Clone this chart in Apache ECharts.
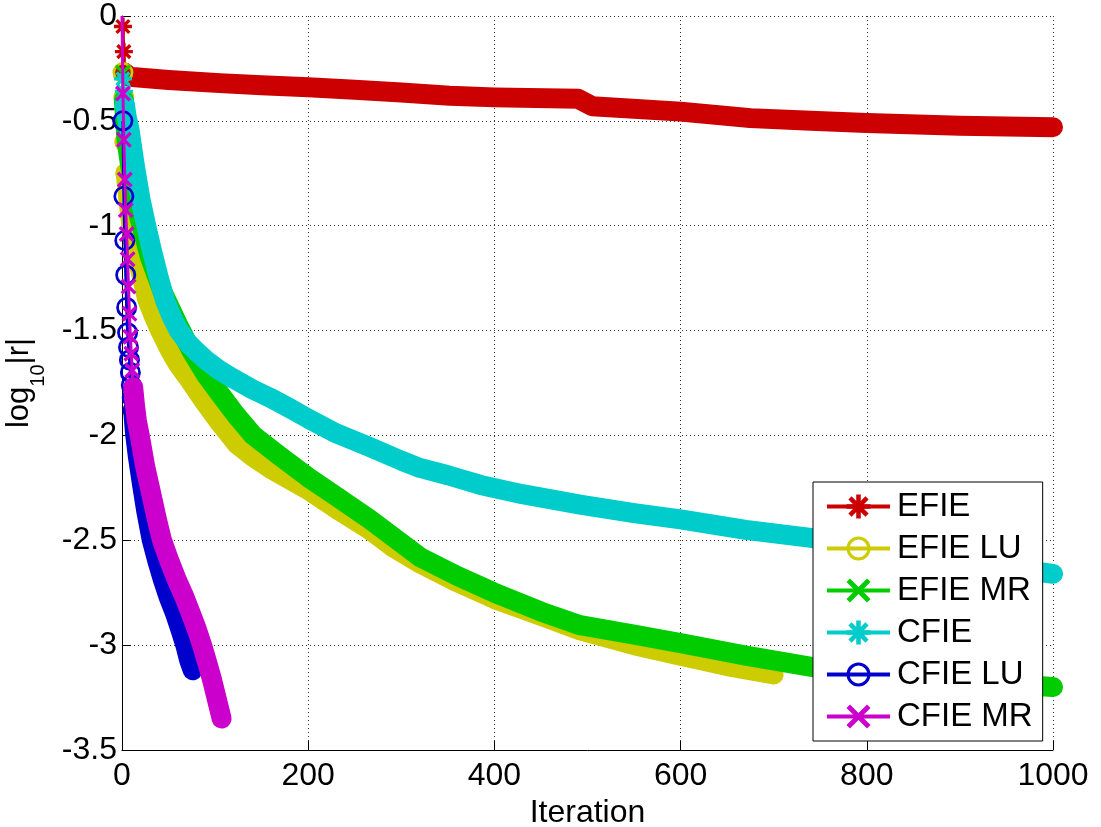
<!DOCTYPE html>
<html>
<head>
<meta charset="utf-8">
<title>log10|r| vs Iteration</title>
<script src="https://cdn.jsdelivr.net/npm/echarts@6/dist/echarts.min.js"></script>
<style>
  html, body { margin: 0; padding: 0; background: #fff; }
  #main { width: 1101px; height: 827px; }
</style>
</head>
<body>
<div id="main"></div>
<script>
const FONT = '"Liberation Sans", Arial, sans-serif';

const names = ["EFIE", "EFIE LU", "EFIE MR", "CFIE", "CFIE LU", "CFIE MR"];
const colors = ["#cc0000", "#cccc00", "#00cc00", "#00cccc", "#0000cc", "#cc00cc"];

const xTicks = [0, 200, 400, 600, 800, 1000];
const yTicks = [0, -0.5, -1, -1.5, -2, -2.5, -3, -3.5];

// [iteration, log10|r|]
// "head" = first iterations where single markers can still be seen,
// "band" = the rest, where markers overlap into a thick band
const efieHead = [[1, -0.05], [2, -0.17], [3, -0.27]];
const efieBand = [[3, -0.27], [8, -0.29], [50, -0.305], [105, -0.32], [150, -0.33], [200, -0.34],
  [250, -0.352], [300, -0.365], [352, -0.38], [400, -0.388], [490, -0.395], [505, -0.43],
  [600, -0.456], [675, -0.487], [740, -0.5], [800, -0.51], [900, -0.523], [1000, -0.53]];

const efieLuHead = [[1, -0.27], [2, -0.39], [3, -0.6], [4, -0.75]];
const efieLuBand = [[4, -0.75], [7, -0.88], [10, -1.0], [14, -1.12], [19, -1.2], [27, -1.35],
  [34, -1.43], [41, -1.5], [51, -1.59], [60, -1.66], [70, -1.72], [87, -1.83], [105, -1.94],
  [123, -2.04], [140, -2.1], [160, -2.16], [200, -2.26], [230, -2.35], [266, -2.45], [290, -2.53],
  [320, -2.61], [360, -2.7], [400, -2.78], [450, -2.86], [492, -2.93], [550, -3.0], [600, -3.05],
  [650, -3.1], [700, -3.14]];

const efieMrHead = [[1, -0.27], [2, -0.4]];
const efieMrBand = [[2, -0.4], [5, -0.6], [10, -0.75], [18, -0.95], [30, -1.15], [45, -1.33],
  [60, -1.47], [75, -1.6], [90, -1.71], [105, -1.8], [122, -1.9], [141, -2.0], [170, -2.1],
  [200, -2.2], [230, -2.29], [266, -2.4], [290, -2.48], [320, -2.58], [360, -2.67], [400, -2.75],
  [450, -2.84], [492, -2.905], [550, -2.95], [600, -2.99], [670, -3.05], [742, -3.105],
  [800, -3.13], [900, -3.17], [1000, -3.2]];

const cfieHead = [[1, -0.3], [2, -0.36], [3, -0.42]];
const cfieBand = [[3, -0.42], [5, -0.48], [8, -0.54], [10, -0.6], [14, -0.72], [20, -0.877],
  [26, -1.0], [32, -1.116], [39, -1.24], [46, -1.354], [54, -1.44], [61, -1.5], [71, -1.56],
  [80, -1.6], [90, -1.64], [105, -1.69], [120, -1.73], [140, -1.78], [159, -1.82], [180, -1.87],
  [200, -1.92], [230, -1.99], [266, -2.055], [300, -2.12], [320, -2.155], [350, -2.19],
  [385, -2.236], [430, -2.28], [492, -2.33], [550, -2.37], [600, -2.4], [670, -2.45],
  [742, -2.49], [800, -2.53], [900, -2.6], [1000, -2.66]];

const cfieLuHead = [[1, -0.5], [2, -0.86], [3, -1.07], [4, -1.235], [5, -1.39], [6, -1.51],
  [7, -1.58], [8, -1.64], [9, -1.7], [10, -1.76], [11, -1.82], [12, -1.88]];
const cfieLuBand = [[12, -1.88], [14, -1.99], [17, -2.1], [21, -2.22], [26, -2.36], [32, -2.5],
  [38, -2.6], [44, -2.69], [50, -2.77], [57, -2.85], [63, -2.93], [68, -3.0], [72, -3.07], [76, -3.12]];

const cfieMrStart = [0, 0];
const cfieMrHead = [[1, -0.37], [2, -0.59], [3, -0.78], [4, -0.925], [5, -1.04], [6, -1.16],
  [7, -1.29], [8, -1.42], [9, -1.53], [10, -1.61], [11, -1.69], [12, -1.77]];
const cfieMrBand = [[12, -1.77], [14, -1.86], [16, -1.93], [19, -2.0], [25, -2.15], [32, -2.29],
  [38, -2.41], [43, -2.5], [51, -2.6], [59, -2.69], [67, -2.77], [74, -2.85], [80, -2.92],
  [86, -3.0], [92, -3.09], [97, -3.17], [102, -3.26], [107, -3.35]];

// matlab-like markers: '*', 'o', 'x'
const ASTER = "path://M-0.19,-1L0.19,-1L0.19,1L-0.19,1Z M-1,-0.19L1,-0.19L1,0.19L-1,0.19Z " +
  "M-0.576,-0.844L0.844,0.576L0.576,0.844L-0.844,-0.576Z M-0.844,0.576L0.576,-0.844L0.844,-0.576L-0.576,0.844Z";
const RING = "path://M1,0A1,1,0,1,1,-1,0A1,1,0,1,1,1,0Z M0.74,0A0.74,0.74,0,1,0,-0.74,0A0.74,0.74,0,1,0,0.74,0Z";
const CROSS = "path://M-0.59,-0.83L0.83,0.59L0.59,0.83L-0.83,-0.59Z M-0.83,0.59L0.59,-0.83L0.83,-0.59L-0.59,0.83Z";

const heads = [efieHead, efieLuHead, efieMrHead, cfieHead, cfieLuHead,
  [{ value: cfieMrStart, symbol: "none" }].concat(cfieMrHead)];
const bands = [efieBand, efieLuBand, efieMrBand, cfieBand, cfieLuBand, cfieMrBand];
const markers = [ASTER, RING, CROSS, ASTER, RING, CROSS];
const markerSizes = [18, 21, 16, 18, 21, 16];

const series = [];
names.forEach((name, i) => {
  series.push({
    name: name + " band",
    type: "line",
    data: bands[i],
    symbol: "none",
    silent: true,
    z: 2 + i * 2,
    lineStyle: { color: colors[i], width: 20, cap: "round", join: "round" },
  });
  series.push({
    name: name,
    type: "line",
    data: heads[i],
    symbol: markers[i],
    symbolSize: markerSizes[i],
    showAllSymbol: true,
    z: 3 + i * 2,
    itemStyle: { color: colors[i] },
    lineStyle: { color: colors[i], width: 3 },
  });
});

const chart = echarts.init(document.getElementById("main"));

const axisCommon = {
  type: "value",
  axisLine: { show: true, onZero: false, lineStyle: { color: "#000", width: 1 } },
  axisTick: { show: true, inside: true, length: 9, lineStyle: { color: "#000" } },
  splitLine: { show: true, lineStyle: { color: "#333", width: 1, type: [1, 3] } },
  axisLabel: { color: "#000", fontSize: 32, fontFamily: FONT, formatter: (v) => String(v) },
};

let option = {
  backgroundColor: "#fff",
  animation: false,
  grid: { left: 122, right: 48, top: 16, bottom: 77, containLabel: false, outerBoundsMode: "none" },
  xAxis: Object.assign({}, axisCommon, {
    min: xTicks[0],
    max: xTicks[xTicks.length - 1],
    interval: 200,
    axisLabel: Object.assign({}, axisCommon.axisLabel, { margin: 10 }),
    name: "Iteration",
    nameLocation: "middle",
    nameGap: 47,
    nameTextStyle: { color: "#000", fontSize: 32, fontFamily: FONT },
  }),
  yAxis: Object.assign({}, axisCommon, {
    min: yTicks[yTicks.length - 1],
    max: yTicks[0],
    interval: 0.5,
    axisLabel: Object.assign({}, axisCommon.axisLabel, { margin: 5 }),
    name: "{a|log}{b|10}{a||r|}",
    nameLocation: "middle",
    nameRotate: 90,
    nameGap: 74,
    nameTextStyle: {
      fontSize: 31,
      fontFamily: FONT,
      rich: {
        a: { color: "#000", fontSize: 31, fontFamily: FONT, verticalAlign: "top", lineHeight: 44 },
        b: { color: "#000", fontSize: 20, fontFamily: FONT, verticalAlign: "bottom", lineHeight: 20 },
      },
    },
  }),
  legend: {
    data: names,
    orient: "vertical",
    left: 813,
    top: 482,
    padding: [8, 10, 8, 12],
    itemGap: 9,
    itemWidth: 63,
    itemHeight: 30,
    backgroundColor: "#fff",
    borderColor: "#000",
    borderWidth: 1,
    borderRadius: 0,
    z: 100,
    lineStyle: { width: 4 },
    textStyle: { color: "#000", fontSize: 33, fontFamily: FONT, padding: [0, 0, 0, 2] },
  },
  series: series,
};

chart.setOption(option);
</script>
</body>
</html>
